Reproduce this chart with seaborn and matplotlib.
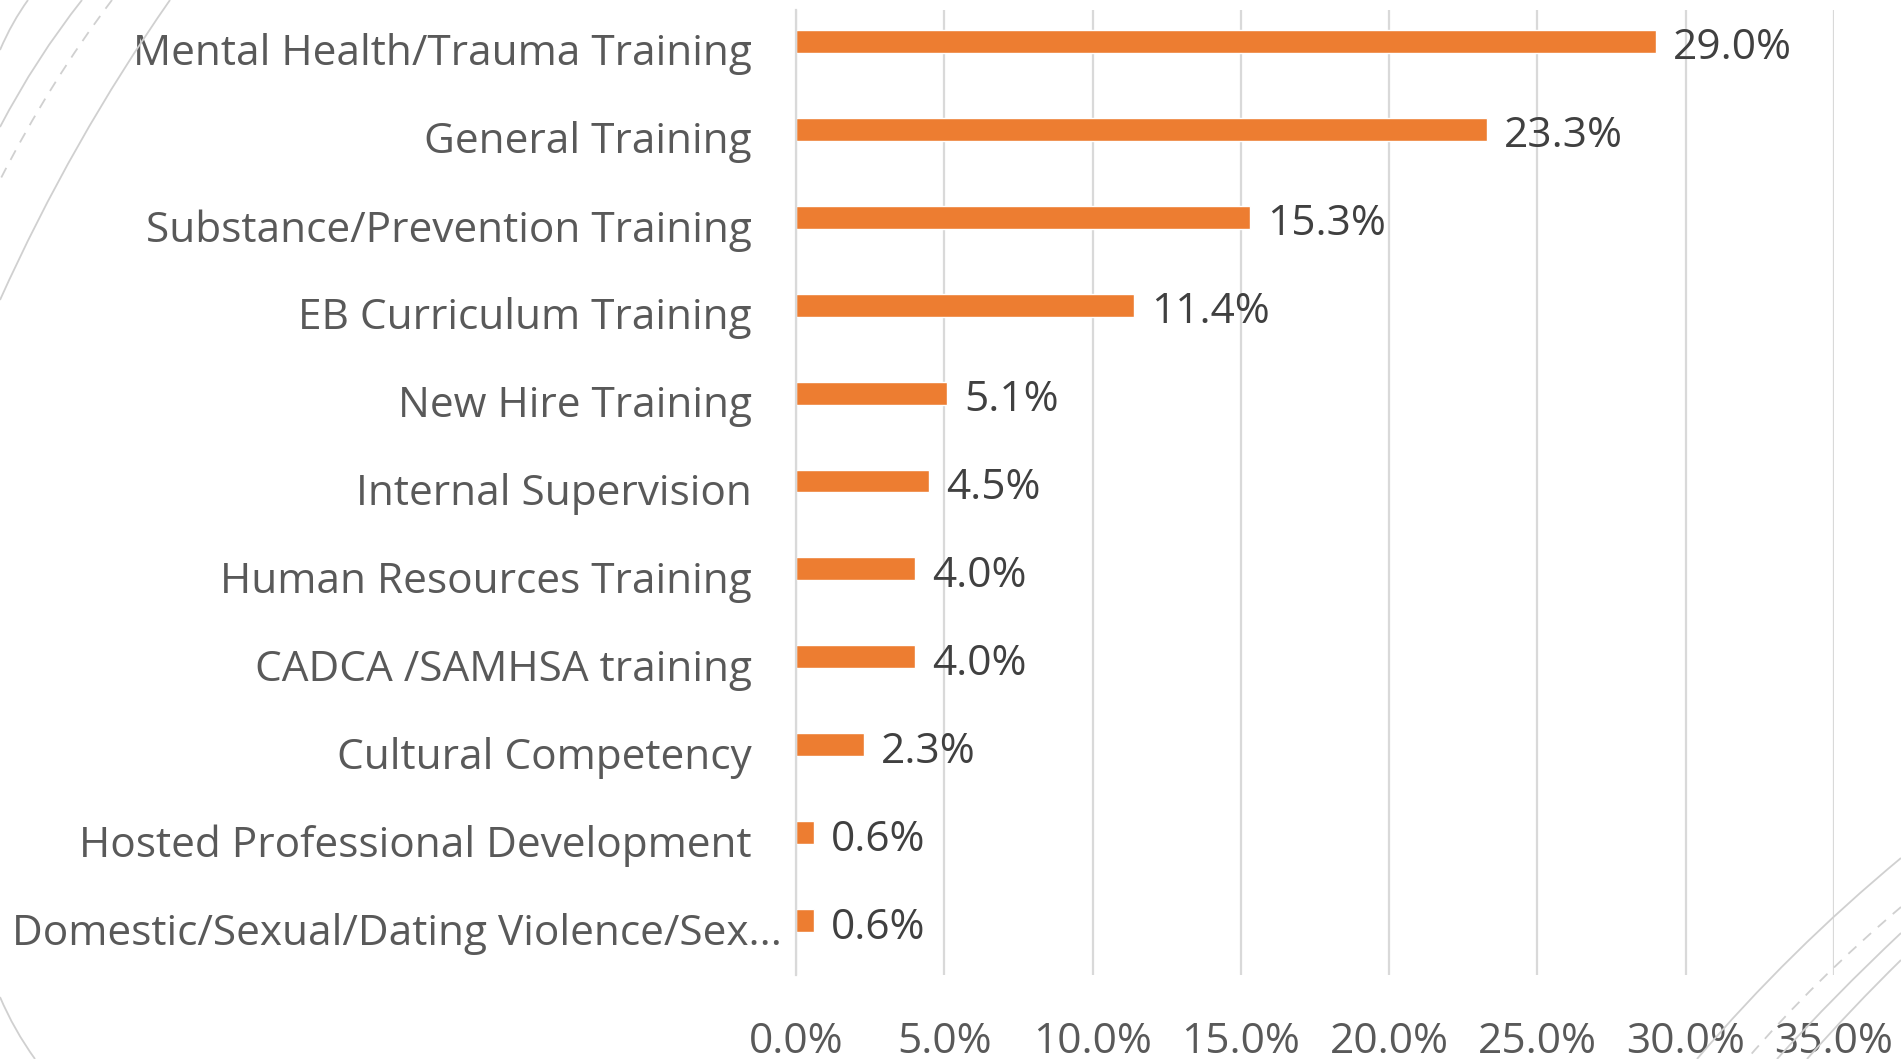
import numpy as np
import pandas as pd
import matplotlib
matplotlib.use("Agg")
import matplotlib.pyplot as plt
import matplotlib.transforms as mtransforms
from matplotlib.path import Path
from matplotlib.patches import PathPatch
import seaborn as sns

categories = [
    "Mental Health/Trauma Training",
    "General Training",
    "Substance/Prevention Training",
    "EB Curriculum Training",
    "New Hire Training",
    "Internal Supervision",
    "Human Resources Training",
    "CADCA /SAMHSA training",
    "Cultural Competency",
    "Hosted Professional Development",
    "Domestic/Sexual/Dating Violence/Sex...",
]
shares = [29.0, 23.3, 15.3, 11.4, 5.1, 4.5, 4.0, 4.0, 2.3, 0.6, 0.6]
x_ticks = [0, 5, 10, 15, 20, 25, 30, 35]

df = pd.DataFrame({"cat": categories, "pct": shares})

sns.set_style("white")
plt.rcParams["font.family"] = ["Open Sans", "DejaVu Sans"]
FS = 30.5

W, H = 1901, 1059
fig = plt.figure(figsize=(W / 100, H / 100), dpi=100)
ax = fig.add_axes([796 / W, (H - 975) / H, (1834 - 796) / W, (975 - 10) / H])

sns.barplot(data=df, y="cat", x="pct", orient="h", color="#ED7D31",
            width=0.26, saturation=1, ax=ax)

ax.set_xlim(0, 35)
ax.set_ylim(10.62, -0.358)
ax.set_xticks(x_ticks)
ax.set_xticklabels([f"{t:.1f}%" for t in x_ticks])
ax.set_xlabel("")
ax.set_ylabel("")
ax.xaxis.grid(True, color="#d9d9d9", linewidth=1.6)
ax.set_axisbelow(True)
for s in ["top", "right", "bottom"]:
    ax.spines[s].set_visible(False)
ax.spines["left"].set_color("#d9d9d9")
ax.spines["left"].set_linewidth(1.6)
ax.tick_params(axis="x", length=0, pad=33, labelsize=FS, labelcolor="#595959")
ax.tick_params(axis="y", length=0, pad=32, labelsize=FS, labelcolor="#595959")

# category labels sit a little below the bar centre; the truncated last one
# runs further right, as in the source
labels = ax.get_yticklabels()
for k, lab in enumerate(labels):
    dx = 30 if k == len(labels) - 1 else 0
    lab.set_transform(lab.get_transform() +
                      mtransforms.ScaledTranslation(dx / 100, -8 / 100, fig.dpi_scale_trans))

for i, v in enumerate(shares):
    ax.annotate(f"{v:.1f}%", xy=(v, i), xytext=(17, -7), textcoords="offset pixels",
                ha="left", va="center", fontsize=FS, color="#404040")

# background slide decoration: thin grey arcs
def arc(p0, c, p1, dashed=False):
    pts = [(x, H - y) for x, y in (p0, c, p1)]
    path = Path(pts, [Path.MOVETO, Path.CURVE3, Path.CURVE3])
    fig.patches.append(PathPatch(path, transform=None, fill=False,
                                 edgecolor="#d0d0d0", linewidth=1.3,
                                 linestyle=(0, (6, 5)) if dashed else "-"))

arc((28, 0), (12, 22), (0, 50))
arc((82, 0), (36, 58), (0, 127))
arc((112, 0), (50, 82), (0, 180), dashed=True)
arc((170, 0), (72, 140), (0, 300))
arc((0, 997), (14, 1030), (35, 1059))
arc((1901, 858), (1790, 950), (1697, 1059))
arc((1901, 907), (1815, 980), (1747, 1059), dashed=True)
arc((1901, 933), (1835, 995), (1777, 1059))
arc((1901, 960), (1852, 1008), (1807, 1059))

fig.savefig("out.png", dpi=100, facecolor="white")
